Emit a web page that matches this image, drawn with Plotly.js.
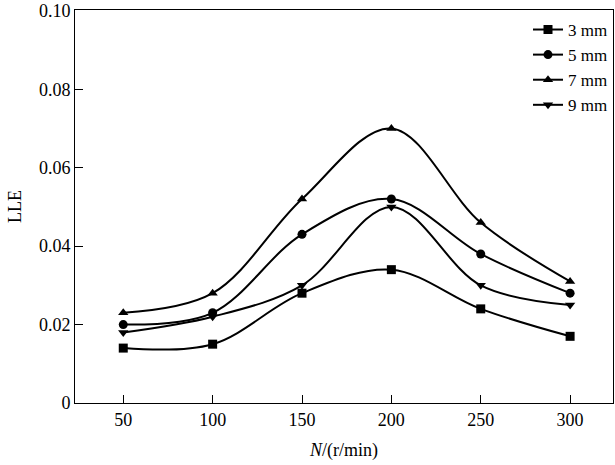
<!DOCTYPE html>
<html><head><meta charset="utf-8">
<script src="https://cdn.plot.ly/plotly-3.0.1.min.js"></script>
<style>html,body{margin:0;padding:0;background:#fff;}#c{width:615px;height:465px;}</style>
</head><body><div id="c"></div>
<script>
const speeds = [50, 100, 150, 200, 250, 300];
const lle3 = [0.014, 0.015, 0.028, 0.034, 0.024, 0.017];
const lle5 = [0.020, 0.023, 0.043, 0.052, 0.038, 0.028];
const lle7 = [0.023, 0.028, 0.052, 0.070, 0.046, 0.031];
const lle9 = [0.018, 0.022, 0.030, 0.050, 0.030, 0.025];
const seriesNames = ['3 mm', '5 mm', '7 mm', '9 mm'];
const yTickVals = [0, 0.02, 0.04, 0.06, 0.08, 0.1];
const yTickText = ['0', '0.02', '0.04', '0.06', '0.08', '0.10'];
const symbols = ['square', 'circle', 'triangle-up', 'triangle-down'];
const data = [lle3, lle5, lle7, lle9].map((y, i) => ({
  x: speeds, y: y, name: seriesNames[i], type: 'scatter', mode: 'lines+markers',
  line: {color: '#000', width: 2, shape: 'spline', smoothing: 1},
  marker: {symbol: symbols[i], size: 9, color: '#000'}
}));
const font = {family: 'Liberation Serif', size: 18, color: '#000'};
const legendFont = {family: 'Liberation Serif', size: 17, color: '#000'};
const layout = {
  width: 615, height: 465,
  margin: {l: 75, r: 2, t: 10, b: 62},
  paper_bgcolor: '#fff', plot_bgcolor: '#fff',
  font: font,
  showlegend: true,
  legend: {x: 1, y: 0.995, xanchor: 'right', yanchor: 'top', bgcolor: 'rgba(0,0,0,0)',
    font: legendFont, tracegroupgap: 0},
  xaxis: {range: [23, 324], tickvals: speeds, ticks: 'inside', ticklen: 8, tickcolor: '#000',
    tickfont: font, ticklabeloverflow: 'allow',
    showline: true, linecolor: '#000', linewidth: 1, mirror: true, showgrid: false, zeroline: false,
    title: {text: '<i>N</i>/(r/min)', font: font, standoff: 14}},
  yaxis: {range: [0, 0.1002], tickvals: yTickVals, ticktext: yTickText,
    ticks: 'inside', ticklen: 8, tickcolor: '#000', tickfont: font, ticklabeloverflow: 'allow',
    showline: true, linecolor: '#000', linewidth: 1, mirror: true, showgrid: false, zeroline: false,
    title: {text: 'LLE', font: font, standoff: 12}}
};
Plotly.newPlot('c', data, layout, {staticPlot: true});
</script></body></html>
